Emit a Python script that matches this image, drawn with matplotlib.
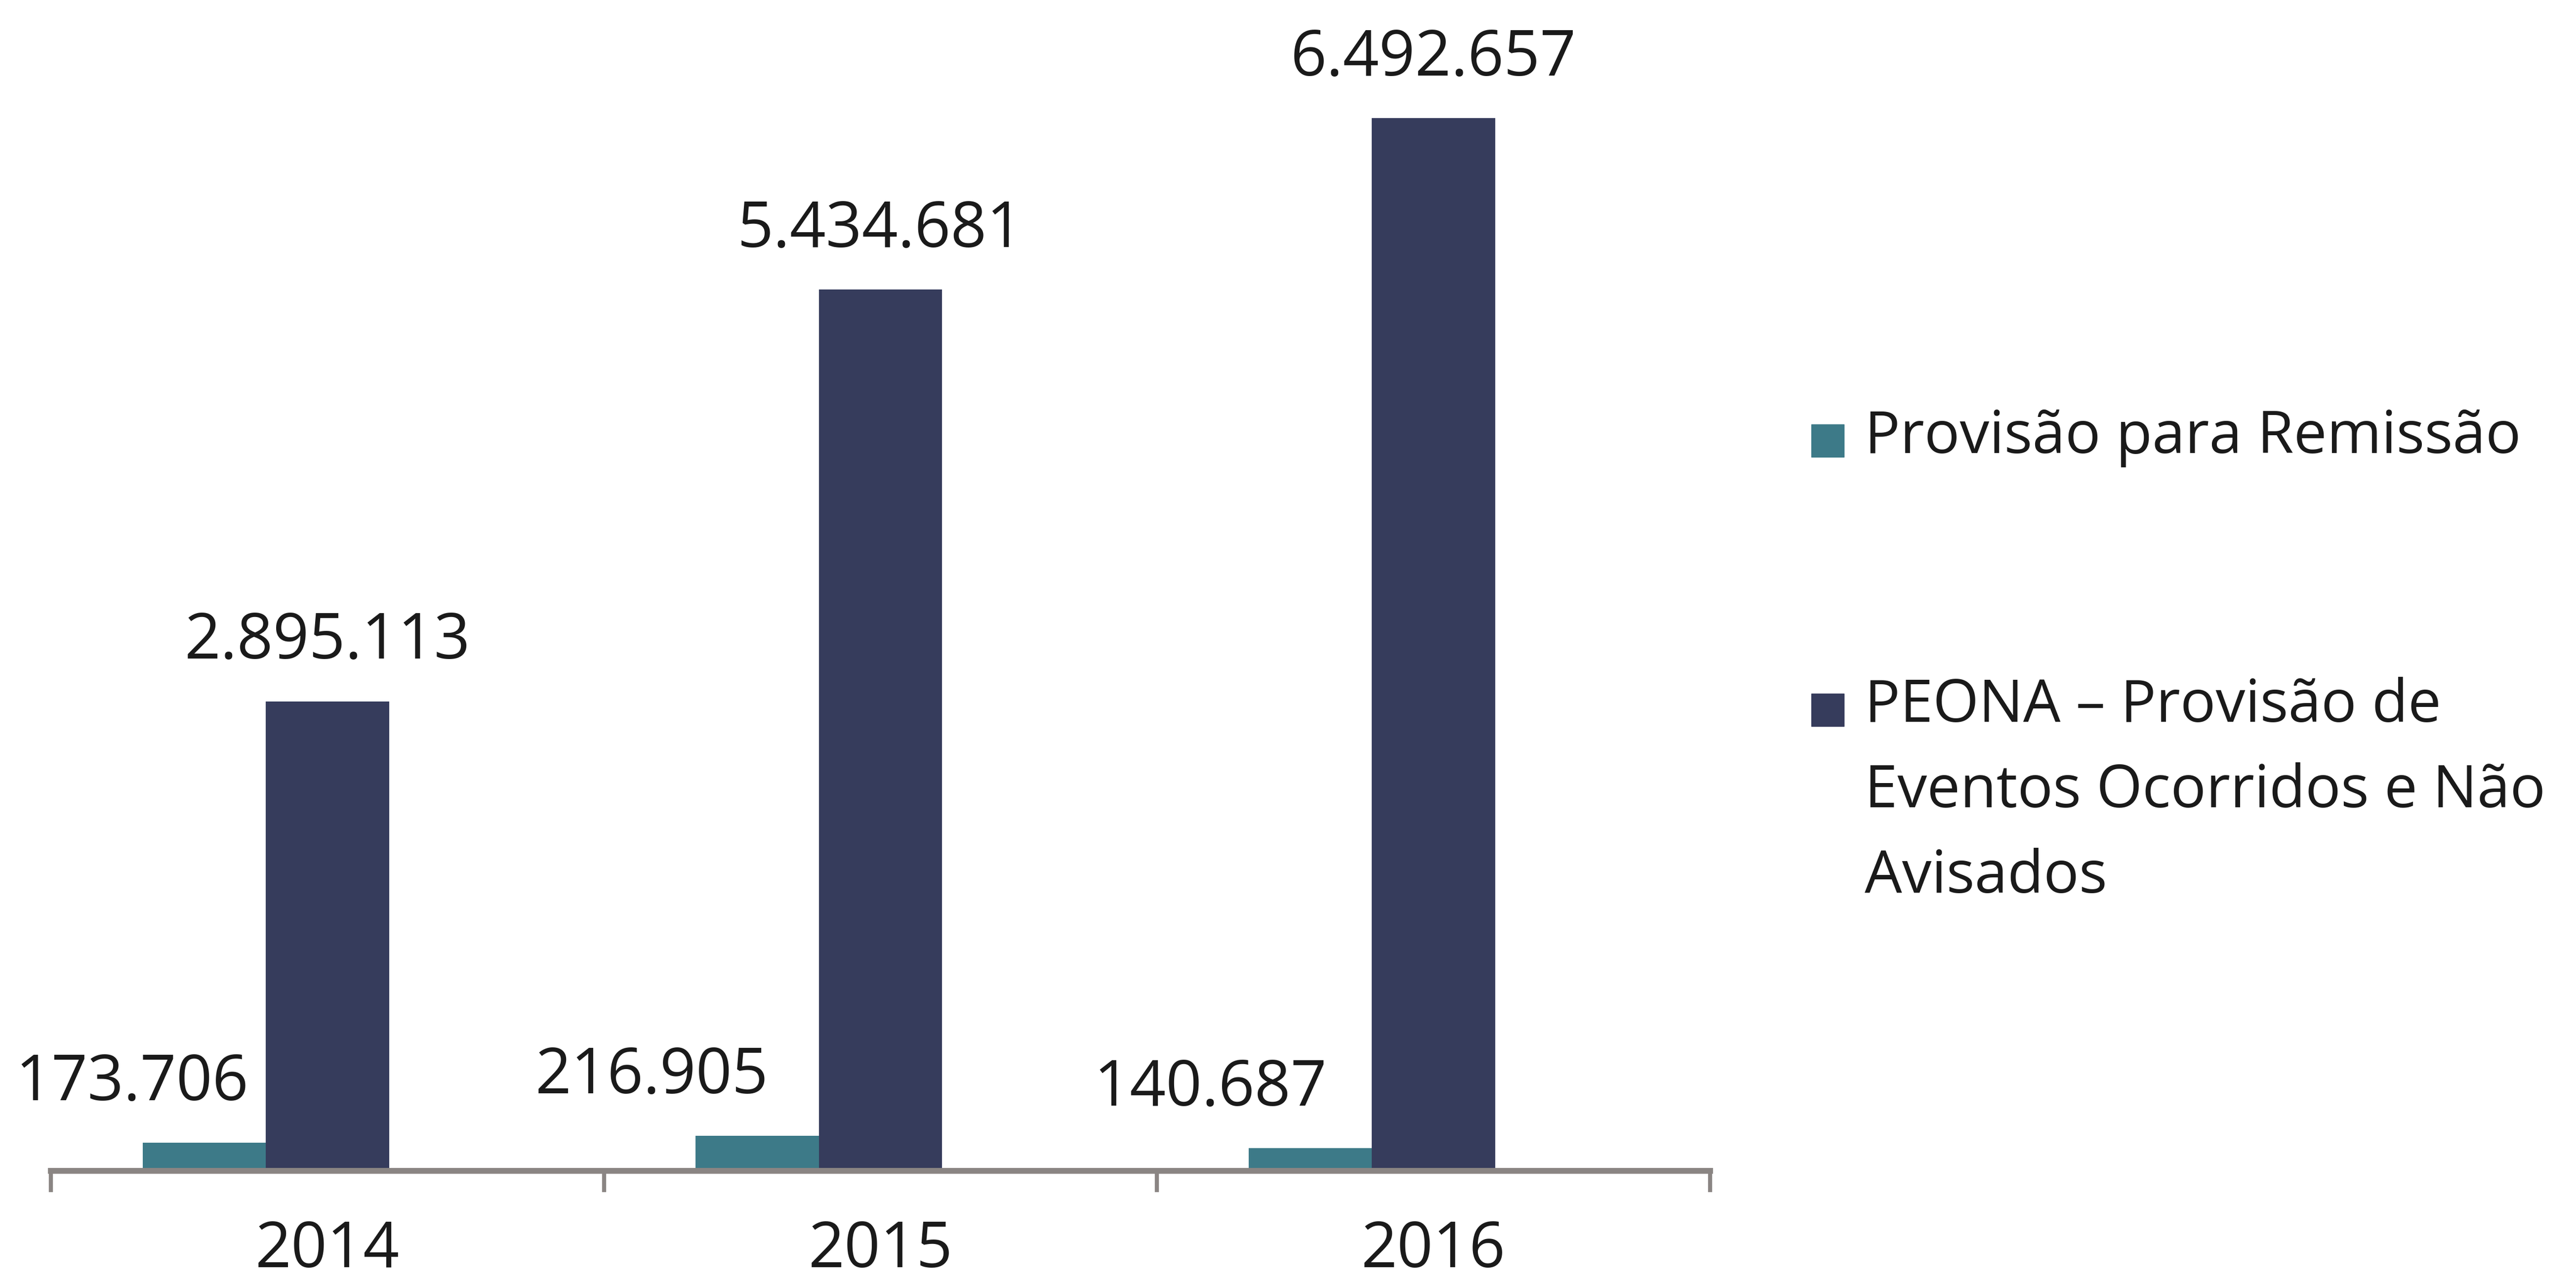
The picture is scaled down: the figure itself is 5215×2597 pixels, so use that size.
import matplotlib.pyplot as plt
from matplotlib.patches import Rectangle

# provisões técnicas por ano
anos = ['2014', '2015', '2016']
remissao = [173706, 216905, 140687]
peona = [2895113, 5434681, 6492657]
series = ['Provisão para Remissão',
          'PEONA – Provisão de\nEventos Ocorridos e Não\nAvisados']

cor_remissao = '#3d7a88'
cor_peona = '#363c5c'
cor_texto = '#1a1a1a'

plt.rcParams['font.family'] = ['Open Sans', 'DejaVu Sans']

def fmt(v):
    return f'{v:,}'.replace(',', '.')

fig = plt.figure(figsize=(52.15, 25.97), dpi=100)
ax = fig.add_axes([0.0198, 0.0874, 0.644, 0.9126])

# três colunas por ano (a terceira fica vazia), como no gráfico original
largura = 0.223
xs = list(range(len(anos)))
x_rem = [x - 1.5 * largura for x in xs]
x_peo = [x - 0.5 * largura for x in xs]

ax.bar(x_rem, remissao, width=largura, color=cor_remissao, align='edge')
ax.bar(x_peo, peona, width=largura, color=cor_peona, align='edge')

# rótulos de valor
desloc_rem = [-0.13, -0.19, -0.18]
for x, v, d in zip(x_rem, remissao, desloc_rem):
    ax.annotate(fmt(v), xy=(x + largura / 2 + d, v), xytext=(0, 86),
                textcoords='offset points', ha='center', va='center',
                fontsize=92, color=cor_texto)
for x, v in zip(x_peo, peona):
    ax.annotate(fmt(v), xy=(x + largura / 2, v), xytext=(0, 86),
                textcoords='offset points', ha='center', va='center',
                fontsize=92, color=cor_texto)

ax.set_xlim(-0.5, 2.5)
ax.set_ylim(0, 7.22e6)

for s in ['top', 'right', 'left']:
    ax.spines[s].set_visible(False)
ax.spines['bottom'].set_color('#8a8583')
ax.spines['bottom'].set_linewidth(8.5)
ax.set_yticks([])

ax.set_xticks(xs)
ax.set_xticklabels(anos, fontsize=92, color=cor_texto)
ax.tick_params(axis='x', which='major', length=0, pad=70)
ax.set_xticks([-0.5, 0.5, 1.5, 2.5], minor=True)
ax.tick_params(axis='x', which='minor', length=31, width=6, color='#8a8583')

# legenda
W, H = 5215, 2597
quad = 66
itens = [(cor_remissao, series[0], 2597 - 892), (cor_peona, series[1], 2597 - 1437)]
for cor, txt, ycen in itens:
    fig.patches.append(Rectangle((3667 / W, (ycen - quad / 2) / H), quad / W, quad / H,
                                 transform=fig.transFigure, color=cor, figure=fig))
    fig.text(3775 / W, (ycen + 66) / H, txt, fontsize=86, color=cor_texto,
             ha='left', va='top', linespacing=1.59)

fig.savefig('out.png', dpi=100)
